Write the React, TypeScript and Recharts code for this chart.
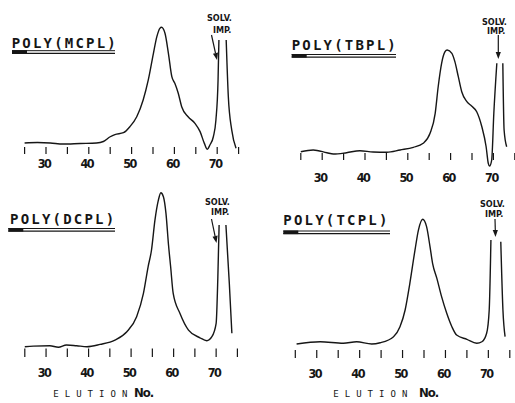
import React from 'react';
import { LineChart, Line, XAxis, YAxis } from 'recharts';

// ---- data ----
const elutionTicks = [25, 30, 35, 40, 45, 50, 55, 60, 65, 70, 75];
const labeledTicks = [30, 40, 50, 60, 70];

const mcplElution = [25, 28, 31, 34, 38, 41.8, 43.4, 45, 46.1, 48.1, 49.6, 51.2, 52.7, 53.9, 55.1, 55.9, 56.6, 57, 57.8, 58.6, 59.4, 60.1, 60.9, 61.7, 63.2, 64.8, 66, 67, 67.7, 68.3, 69.1, 69.7, 70.2, 70.4, 71.3, 72.1, 72.6, 73.4, 74.4];
const mcplSignal = [0, 0.4, 0, -0.9, -0.4, 0, 1.3, 5.4, 7.3, 8.9, 14.1, 22.7, 37.2, 54.5, 77.5, 91.9, 99.1, 100, 94.8, 77.5, 57.3, 51.6, 43, 31.4, 22.7, 17, 9.8, -0.3, -5.4, -1.7, 5.4, 19.9, 54.5, 89, null, 89, 40, 11.2, -4.6];

const tbplElution = [25, 27.9, 31.1, 32.6, 35.7, 38.8, 41.9, 45.1, 48.2, 51.3, 53.6, 55.2, 56.4, 57.1, 57.9, 58.7, 59.2, 60.3, 61, 61.8, 62.6, 63.8, 64.9, 66.1, 67.3, 68.3, 68.8, 69.1, 69.6, 70.1, 70.8, 71.5, 72.2, 72.5, 73.1];
const tbplSignal = [-0.2, 1.5, -1.2, -2.5, -1.2, 0.8, -0.5, -0.8, 1.5, 4.1, 8.1, 17.9, 37.6, 63.8, 86.9, 98.3, 100, 96.7, 88.5, 73.7, 58.9, 49.1, 44.8, 39.2, 24.4, 4.7, -11.6, -14.3, -8.4, 37.6, 86.9, null, 86.9, 21.2, 4.7];

const dcplElution = [25, 27, 30.9, 32.9, 34.8, 37.2, 39.6, 42.7, 46.2, 49, 51.3, 52.9, 54, 54.8, 55.6, 56.4, 57, 57.6, 58.2, 58.8, 59.3, 59.9, 61.5, 63.5, 66.2, 67.8, 69, 70, 70.4, 70.7, 71.5, 72.3, 73.1, 73.7];
const dcplSignal = [0, 0.4, 0.6, -0.4, 1.1, 0.6, 0, 1.5, 4.3, 9.7, 19.5, 34.6, 51.9, 62.8, 82, 95, 100, 97.4, 86.6, 66, 51.9, 34.6, 21.6, 10.8, 5.8, 3.9, 6.5, 15.2, 45, 79, null, 79, 41, 8.7];

const tcplElution = [25.3, 30.8, 36.2, 39.3, 42.8, 44.8, 47.9, 49.4, 50.6, 51.7, 52.9, 53.7, 54.7, 55.6, 56.4, 57, 58, 59.1, 60.3, 61.5, 62.6, 65, 67.3, 68.5, 69.6, 70.2, 70.6, 71.7, 72.9, 73.4, 73.9];
const tcplSignal = [-1.2, 0.6, -0.6, 0.6, -1.2, -0.2, 4.7, 12.8, 26.4, 48, 75, 91.2, 100, 94, 77.8, 64.3, 52.1, 37.2, 23.7, 12.8, 6.1, 2.6, -0.6, 0.6, 7.5, 26.4, 83.2, null, 81.8, 26.4, 4.7];

const Y_DOMAIN: [number, number] = [-20, 110];

const toRows = (el: number[], sig: (number | null)[]) => el.map((v, i) => ({ v, s: sig[i] }));

// ---- layout ----
const W = 515;
const H = 403;
const AXIS_H = 20;
const INK = '#161616';

const panels = [
  {
    key: 'mcpl', title: 'POLY(MCPL)', rows: toRows(mcplElution, mcplSignal),
    x25: 24.6, x75: 238.6, baseY: 143, peakY: 27.3, tickTop: 147, tickBottom: 154, labelY: 167.5,
    titleX: 11.7, titleY: 47.7, ulX0: 12, ulX1: 115, ulY: 50.7,
    solvX: 207, solvY: 20.5, impX: 213, impY: 32.5, arrow: [211.5, 35, 217, 60], elution: null,
  },
  {
    key: 'tbpl', title: 'POLY(TBPL)', rows: toRows(tbplElution, tbplSignal),
    x25: 300.8, x75: 514.8, baseY: 151.5, peakY: 50, tickTop: 153, tickBottom: 160, labelY: 182,
    titleX: 291.7, titleY: 50, ulX0: 291.7, ulX1: 396, ulY: 54.5,
    solvX: 482, solvY: 25, impX: 487, impY: 33.5, arrow: [498.3, 35, 498.3, 59], elution: null,
  },
  {
    key: 'dcpl', title: 'POLY(DCPL)', rows: toRows(dcplElution, dcplSignal),
    x25: 24.8, x75: 237.4, baseY: 346.7, peakY: 192.7, tickTop: 348.5, tickBottom: 357, labelY: 377,
    titleX: 10, titleY: 224, ulX0: 8.3, ulX1: 115, ulY: 228.5,
    solvX: 205, solvY: 205, impX: 211, impY: 215, arrow: [211.5, 219, 216.5, 243], elution: [53.3, 134, 396.7],
  },
  {
    key: 'tcpl', title: 'POLY(TCPL)', rows: toRows(tcplElution, tcplSignal),
    x25: 295.3, x75: 509.8, baseY: 342.5, peakY: 219.3, tickTop: 350, tickBottom: 358, labelY: 378,
    titleX: 283.3, titleY: 225, ulX0: 283.3, ulX1: 390, ulY: 231,
    solvX: 480, solvY: 207, impX: 485, impY: 217, arrow: [495, 219, 495.5, 237], elution: [333.3, 419, 397],
  },
];

type Panel = typeof panels[number];

const DIGIT_FONT = '"DejaVu Sans Condensed", "DejaVu Sans", sans-serif';
const MONO_FONT = '"DejaVu Sans Mono", "Liberation Mono", monospace';

function makeTick(p: Panel) {
  return (props: any) => {
    const { x, payload } = props;
    const v = payload?.value;
    return (
      <g>
        <line x1={x} x2={x} y1={p.tickTop} y2={p.tickBottom} stroke={INK} strokeWidth={1.2} />
        {labeledTicks.includes(v) && (
          <text x={x - 2} y={p.labelY} textAnchor="middle" fontFamily={DIGIT_FONT} fontSize={12.5}
            fontWeight="bold" letterSpacing={-1.5} fill={INK}>{v}</text>
        )}
      </g>
    );
  };
}

function PanelChart({ p }: { p: Panel }) {
  const k = (p.baseY - p.peakY) / 100;
  const plotTop = p.baseY - Y_DOMAIN[1] * k;
  const plotBottom = p.baseY - Y_DOMAIN[0] * k;
  return (
    <div style={{ position: 'absolute', left: 0, top: 0 }}>
      <LineChart width={W} height={H} data={p.rows}
        margin={{ left: p.x25, right: W - p.x75, top: plotTop, bottom: H - plotBottom - AXIS_H }}>
        <XAxis dataKey="v" type="number" domain={[25, 75]} ticks={elutionTicks} interval={0}
          axisLine={false} tickLine={false} tickSize={4} tickMargin={2} height={AXIS_H}
          tick={makeTick(p)} />
        <YAxis hide type="number" domain={Y_DOMAIN} />
        <Line dataKey="s" type="monotone" stroke={INK} strokeWidth={1.4} dot={false}
          isAnimationActive={false} connectNulls={false} />
      </LineChart>
    </div>
  );
}

function Arrow({ a }: { a: number[] }) {
  const [x1, y1, x2, y2] = a;
  const dx = x2 - x1, dy = y2 - y1;
  const len = Math.hypot(dx, dy);
  const ux = dx / len, uy = dy / len;
  const hl = 7, hw = 2.6;
  const bx = x2 - ux * hl, by = y2 - uy * hl;
  const pts = `${x2},${y2} ${bx - uy * hw},${by + ux * hw} ${bx + uy * hw},${by - ux * hw}`;
  return (
    <g>
      <line x1={x1} y1={y1} x2={bx} y2={by} stroke={INK} strokeWidth={1.2} />
      <polygon points={pts} fill={INK} />
    </g>
  );
}

function Decorations() {
  return (
    <svg width={W} height={H} style={{ position: 'absolute', left: 0, top: 0 }}>
      {panels.map((p) => (
        <g key={p.key}>
          <text x={p.titleX} y={p.titleY} fontFamily={MONO_FONT} fontSize={14} fontWeight="bold"
            letterSpacing={2.2} fill={INK}>{p.title}</text>
          <rect x={p.ulX0} y={p.ulY - 0.5} width={15} height={3.6} fill={INK} />
          <line x1={p.ulX0} x2={p.ulX1} y1={p.ulY} y2={p.ulY} stroke={INK} strokeWidth={1} />
          <line x1={p.ulX0} x2={p.ulX1} y1={p.ulY + 2.6} y2={p.ulY + 2.6} stroke={INK} strokeWidth={1.2} />
          <text x={p.solvX} y={p.solvY} fontFamily={DIGIT_FONT} fontSize={9} fontWeight="bold" fill={INK}>SOLV.</text>
          <text x={p.impX} y={p.impY} fontFamily={DIGIT_FONT} fontSize={9} fontWeight="bold" fill={INK}>IMP.</text>
          <Arrow a={p.arrow} />
          {p.elution && (
            <g>
              <text x={p.elution[0]} y={p.elution[2]} fontFamily={MONO_FONT} fontSize={9}
                textLength={74} lengthAdjust="spacing" fill={INK}>ELUTION</text>
              <text x={p.elution[1]} y={p.elution[2]} fontFamily={DIGIT_FONT} fontSize={13}
                fontWeight="bold" letterSpacing={-1} fill={INK}>No.</text>
            </g>
          )}
        </g>
      ))}
    </svg>
  );
}

export default function App() {
  return (
    <div style={{ position: 'absolute', left: 0, top: 0, width: W, height: H, background: '#fff', overflow: 'hidden' }}>
      {panels.map((p) => <PanelChart key={p.key} p={p} />)}
      <Decorations />
    </div>
  );
}
